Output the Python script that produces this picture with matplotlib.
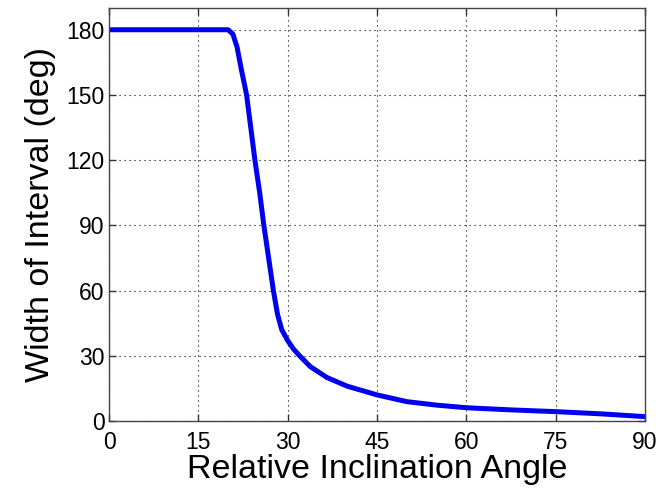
import matplotlib
matplotlib.use("Agg")
import matplotlib.pyplot as plt

# angles (deg) and interval width (deg)
angle = [0, 5, 10, 15, 20, 20.8, 21.5, 22.2, 23.1, 23.8, 24.5, 25.3, 26.0, 26.8, 27.6,
         28.3, 29.0, 30.0, 31.0, 32.0, 33.8, 36.6, 40.0, 45.0, 50.0, 55.0, 60.0,
         67.5, 75.0, 82.5, 90.0]
width = [180, 180, 180, 180, 180, 178, 172, 162, 150, 135, 120, 105, 90, 75, 60,
         49, 42, 37, 33, 30, 25, 20, 16, 12, 8.9, 7.3, 6.1, 5.1, 4.3, 3.3, 2.0]

xticks = [0, 15, 30, 45, 60, 75, 90]
yticks = [0, 30, 60, 90, 120, 150, 180]

plt.rcParams['font.family'] = ['Liberation Sans', 'DejaVu Sans']

fig = plt.figure(figsize=(6.62, 4.91), dpi=100)
ax = fig.add_axes([0.1647, 0.1426, 0.8096, 0.8411])

ax.plot(angle, width, color='#0000ee', linewidth=3.6, solid_capstyle='butt')

ax.set_xlim(0, 90)
ax.set_ylim(0, 190)
ax.set_xticks(xticks)
ax.set_yticks(yticks)
ax.grid(True, linestyle=(0, (1, 3.5)), color='black', linewidth=0.8)
ax.tick_params(direction='in', length=5, width=1, top=True, right=True,
               labelsize=16.5, colors='#333333', labelcolor='black')
ax.tick_params(axis='x', pad=7)
ax.tick_params(axis='y', pad=3)
for s in ax.spines.values():
    s.set_color('#444444')
    s.set_linewidth(1)

ax.set_xlabel('Relative Inclination Angle', fontsize=24.5, labelpad=0)
ax.set_ylabel('Width of Interval (deg)', fontsize=24.5, labelpad=8)

fig.savefig('out.png', dpi=100)
